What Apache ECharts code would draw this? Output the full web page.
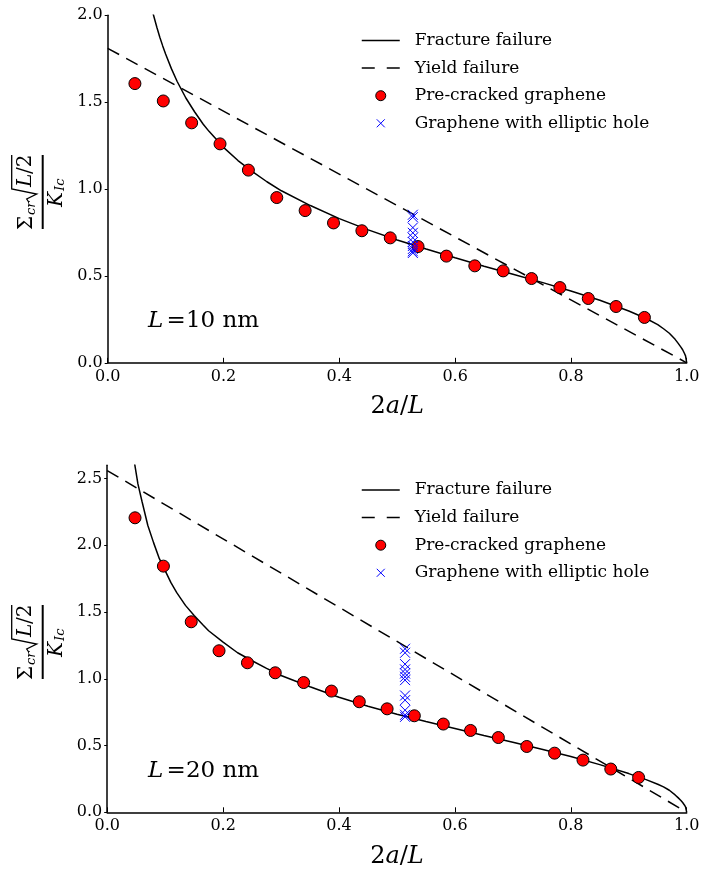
<!DOCTYPE html>
<html>
<head>
<meta charset="utf-8">
<script src="https://cdn.jsdelivr.net/npm/echarts@6/dist/echarts.min.js"></script>
<style>
  html, body { margin: 0; padding: 0; background: #fff; }
  #chart { width: 707px; height: 878px; }
</style>
</head>
<body>
<div id="chart"></div>
<script>
// ---- data: normalised critical stress vs crack ratio 2a/L ----
// L = 10 nm panel
const precrackedX10 = [0.047, 0.096, 0.145, 0.194, 0.243, 0.292, 0.341, 0.390, 0.439, 0.488, 0.536, 0.585, 0.634, 0.683, 0.732, 0.781, 0.830, 0.878, 0.927];
const precrackedY10 = [1.607, 1.507, 1.381, 1.260, 1.109, 0.951, 0.876, 0.805, 0.760, 0.719, 0.669, 0.614, 0.558, 0.529, 0.485, 0.433, 0.370, 0.324, 0.261];
const ellipticX10 = 0.527;
const ellipticY10 = [0.852, 0.838, 0.778, 0.748, 0.720, 0.695, 0.672, 0.655, 0.642, 0.632];
const fractureX10 = [0.07, 0.076, 0.08, 0.085, 0.09, 0.095, 0.1, 0.11, 0.12, 0.135, 0.15, 0.165, 0.175, 0.2, 0.225, 0.25, 0.275, 0.3, 0.35, 0.4, 0.45, 0.5, 0.55, 0.6, 0.65, 0.7, 0.75, 0.8, 0.85, 0.9, 0.93, 0.95, 0.96, 0.97, 0.98, 0.985, 0.99, 0.993, 0.996, 0.998, 1.0];
const fractureY10 = [2.13, 2.04, 1.99, 1.93, 1.874, 1.824, 1.777, 1.693, 1.619, 1.524, 1.445, 1.373, 1.332, 1.24, 1.164, 1.10, 1.042, 0.99, 0.905, 0.83, 0.765, 0.707, 0.655, 0.605, 0.556, 0.51, 0.463, 0.413, 0.36, 0.298, 0.255, 0.22, 0.196, 0.17, 0.135, 0.113, 0.09, 0.075, 0.055, 0.04, 0];
const yieldX = [0, 1];
const yieldY10 = [1.81, 0];

// L = 20 nm panel
const precrackedX20 = [0.048, 0.097, 0.145, 0.193, 0.242, 0.290, 0.339, 0.387, 0.435, 0.483, 0.530, 0.580, 0.627, 0.675, 0.724, 0.772, 0.821, 0.869, 0.917];
const precrackedY20 = [2.206, 1.844, 1.427, 1.210, 1.120, 1.045, 0.972, 0.908, 0.828, 0.775, 0.723, 0.661, 0.613, 0.560, 0.493, 0.443, 0.391, 0.324, 0.261];
const ellipticX20 = 0.514;
const ellipticY20 = [1.225, 1.195, 1.110, 1.070, 1.040, 1.015, 0.990, 0.875, 0.840, 0.765, 0.730, 0.715];
const fractureX20 = [0.044, 0.047, 0.053, 0.06, 0.07, 0.08, 0.09, 0.1, 0.11, 0.12, 0.135, 0.15, 0.165, 0.175, 0.2, 0.225, 0.25, 0.275, 0.3, 0.35, 0.4, 0.45, 0.5, 0.55, 0.6, 0.65, 0.7, 0.75, 0.8, 0.85, 0.9, 0.93, 0.95, 0.96, 0.97, 0.98, 0.985, 0.99, 0.993, 0.996, 0.998, 1.0];
const fractureY20 = [2.72, 2.62, 2.46, 2.33, 2.15, 2.02, 1.90, 1.81, 1.72, 1.645, 1.55, 1.475, 1.405, 1.36, 1.275, 1.195, 1.135, 1.078, 1.025, 0.94, 0.862, 0.795, 0.735, 0.68, 0.628, 0.576, 0.525, 0.472, 0.418, 0.357, 0.29, 0.245, 0.21, 0.19, 0.165, 0.13, 0.11, 0.088, 0.073, 0.055, 0.04, 0];
const yieldY20 = [2.56, 0];

// axis ticks
const xTicks = [0, 0.2, 0.4, 0.6, 0.8, 1.0];
const yTicks10 = [0, 0.5, 1.0, 1.5, 2.0];
const yTicks20 = [0, 0.5, 1.0, 1.5, 2.0, 2.5];

const seriesNames = ['Fracture failure', 'Yield failure', 'Pre-cracked graphene', 'Graphene with elliptic hole'];
const panelLabels = ['10', '20'];

// ---- helpers ----
const SERIF = 'DejaVu Serif';
const pairs = (xs, ys) => xs.map((x, i) => [x, ys[i]]);
const column = (x, ys) => ys.map(y => [x, y]);
const CROSS = 'path://M0,0L10,10M10,0L0,10';

function xAxisFor(gi) {
  return {
    gridIndex: gi, type: 'value', min: 0, max: 1,
    name: '2{i|a}/{i|L}', nameLocation: 'middle', nameGap: 32,
    nameTextStyle: {
      fontFamily: SERIF, fontSize: 24, color: '#000',
      rich: { i: { fontFamily: SERIF, fontStyle: 'italic', fontSize: 24, color: '#000' } }
    },
    axisLine: { lineStyle: { color: '#000', width: 1.5 } },
    axisTick: { inside: true, length: 5, lineStyle: { color: '#000', width: 1 }, customValues: xTicks },
    axisLabel: { customValues: xTicks, margin: 6, fontFamily: SERIF, fontSize: 16, color: '#000',
      formatter: v => v.toFixed(1) },
    splitLine: { show: false }
  };
}
function yAxisFor(gi, max, ticks) {
  return {
    gridIndex: gi, type: 'value', min: 0, max: max,
    axisLine: { show: true, lineStyle: { color: '#000', width: 1.5 } },
    axisTick: { show: true, inside: false, length: 3, lineStyle: { color: '#000', width: 1 }, customValues: ticks },
    axisLabel: { customValues: ticks, margin: 5, fontFamily: SERIF, fontSize: 16, color: '#000',
      formatter: v => v.toFixed(1) },
    splitLine: { show: false }
  };
}
function panelSeries(gi, fx, fy, yy, px, py, ex, ey) {
  return [
    { name: seriesNames[0], type: 'line', xAxisIndex: gi, yAxisIndex: gi, data: pairs(fx, fy),
      symbol: 'none', lineStyle: { color: '#000', width: 1.5 }, z: 2 },
    { name: seriesNames[1], type: 'line', xAxisIndex: gi, yAxisIndex: gi, data: pairs(yieldX, yy),
      symbol: 'none', lineStyle: { color: '#000', width: 1.5, type: [13, 8] }, z: 2 },
    { name: seriesNames[2], type: 'scatter', xAxisIndex: gi, yAxisIndex: gi, data: pairs(px, py),
      symbol: 'circle', symbolSize: 12,
      itemStyle: { color: '#ff0000', borderColor: '#000', borderWidth: 1, opacity: 1 }, z: 3 },
    { name: seriesNames[3], type: 'scatter', xAxisIndex: gi, yAxisIndex: gi, data: column(ex, ey),
      symbol: CROSS, symbolSize: 10,
      itemStyle: { color: 'rgba(0,0,0,0)', borderColor: '#0000ff', borderWidth: 1, opacity: 1 }, z: 4 }
  ];
}
function legendFor(top) {
  return {
    orient: 'vertical', left: 361, top: top, padding: 0,
    itemWidth: 38, itemHeight: 10, itemGap: 10.6,
    textStyle: { fontFamily: SERIF, fontSize: 17, color: '#000', padding: [0, 0, 0, 10] },
    selectedMode: false,
    data: [
      { name: seriesNames[0], icon: 'path://M0,-5M0,0L38,0M38,5',
        itemStyle: { color: 'rgba(0,0,0,0)', borderColor: '#000', borderWidth: 1.5 } },
      { name: seriesNames[1], icon: 'path://M0,-5M0,0L13,0M25,0L38,0M38,5',
        itemStyle: { color: 'rgba(0,0,0,0)', borderColor: '#000', borderWidth: 1.5 } },
      { name: seriesNames[2], icon: 'circle',
        itemStyle: { color: '#ff0000', borderColor: '#000', borderWidth: 1 } },
      { name: seriesNames[3], icon: 'path://M-1,-1M0,0L8,8M8,0L0,8M9,9',
        itemStyle: { color: 'rgba(0,0,0,0)', borderColor: '#0000ff', borderWidth: 1 } }
    ]
  };
}

// rotated y-axis title: Sigma_cr sqrt(L/2) / K_Ic
function fractionLabel(cx, cy) {
  const t = (text, x, y, size, italic) => ({
    type: 'text', x: x, y: y,
    style: { text: text, fill: '#000', font: (italic ? 'italic ' : '') + size + 'px "' + SERIF + '"',
      align: 'left', verticalAlign: 'middle' }
  });
  return {
    type: 'group', x: cx, y: cy, rotation: Math.PI / 2,
    children: [
      { type: 'line', shape: { x1: -37, y1: 0, x2: 37, y2: 0 }, style: { stroke: '#000', lineWidth: 2 } },
      t('Σ', -38, -16, 20, false),
      t('cr', -23, -11, 13, true),
      { type: 'polyline', shape: { points: [[-10, -14], [-7, -16], [-2, -6], [3, -31], [37, -31]] },
        style: { stroke: '#000', lineWidth: 1.3, fill: null } },
      t('L', 5, -17, 20, true),
      t('/2', 18, -17, 20, false),
      t('K', -15, 14, 20, true),
      t('Ic', 1, 18, 13, true)
    ]
  };
}
function panelNote(y, value) {
  return {
    type: 'text', x: 148, y: y,
    style: {
      text: '{i|L} {r|=' + value + ' nm}', fill: '#000', align: 'left', verticalAlign: 'middle',
      rich: {
        i: { fontFamily: SERIF, fontStyle: 'italic', fontSize: 23, fill: '#000' },
        r: { fontFamily: SERIF, fontSize: 23, fill: '#000' }
      }
    }
  };
}

const chart = echarts.init(document.getElementById('chart'), null, { renderer: 'canvas' });
chart.setOption({
  animation: false,
  backgroundColor: '#fff',
  grid: [
    { left: 107.7, top: 15.3, width: 579, height: 347.5 },
    { left: 107.2, top: 465.2, width: 579.5, height: 347.1 }
  ],
  xAxis: [xAxisFor(0), xAxisFor(1)],
  yAxis: [yAxisFor(0, 2.0, yTicks10), yAxisFor(1, 2.6, yTicks20)],
  legend: [legendFor(32), legendFor(481.5)],
  series: [].concat(
    panelSeries(0, fractureX10, fractureY10, yieldY10, precrackedX10, precrackedY10, ellipticX10, ellipticY10),
    panelSeries(1, fractureX20, fractureY20, yieldY20, precrackedX20, precrackedY20, ellipticX20, ellipticY20)
  ),
  graphic: [
    fractionLabel(42.7, 192),
    fractionLabel(42.7, 642),
    panelNote(321, panelLabels[0]),
    panelNote(771, panelLabels[1])
  ]
});
</script>
</body>
</html>
